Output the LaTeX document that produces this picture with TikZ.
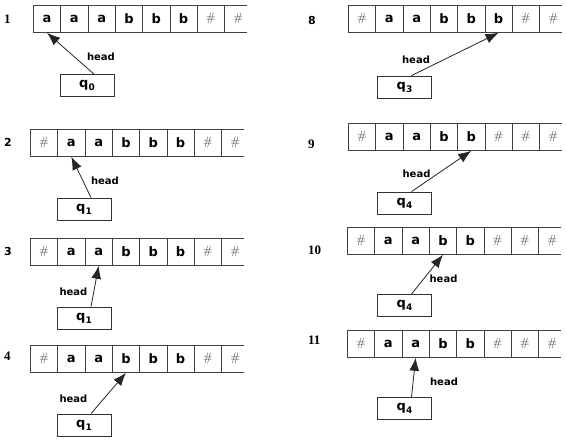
\documentclass[tikz,border=0pt]{standalone}
\usepackage{fontspec}
\usetikzlibrary{arrows.meta}
\newfontfamily\dejavu{DejaVu Sans}
\newfontfamily\serifnum{Liberation Serif}
\newcommand{\cellfont}{\dejavu\bfseries\fontsize{13}{13}\selectfont}
\newcommand{\headfont}{\dejavu\bfseries\fontsize{10}{10}\selectfont}
\newcommand{\numfont}{\serifnum\bfseries\fontsize{13}{13}\selectfont}
\newcommand{\sansnum}{\dejavu\bfseries\fontsize{11}{11}\selectfont}
\newcommand{\hash}{{\rmfamily\mdseries\fontsize{12}{12}\selectfont\color{black!80}\#}}
\newcommand{\state}[1]{q\raisebox{-3pt}{\fontsize{9}{9}\selectfont #1}}
\newcommand{\tape}[4]{%
  \foreach \s [count=\i] in {#4} {
    \ifnum\i<8
      \node[cell] (#1-\i) at ({#2+(\i-1)*\cellw}, #3) {\s};
    \else
      \node[cell, draw=none] (#1-\i) at ({#2+(\i-1)*\cellw}, #3) {\s};
      \draw[tapeline] (#1-\i.north west) -- ++(23,0) (#1-\i.south west) -- ++(23,0);
    \fi
  }%
}
\begin{document}
\begin{tikzpicture}[x=1pt, y=-1pt,
    tapeline/.style={draw=black!75, line width=0.8pt},
    cell/.style={tapeline, anchor=north west, minimum width=\cellw pt, minimum height=27pt, inner sep=0pt, font=\cellfont},
    statebox/.style={draw=black!80, line width=0.8pt, minimum width=54pt, minimum height=22pt, inner sep=0pt, font=\cellfont},
    headlabel/.style={font=\headfont, inner sep=0pt},
    stepnum/.style={font=\numfont, anchor=west, inner sep=0pt},
    headarrow/.style={-{Latex[length=13pt,width=10pt]}, draw=black!85, line width=0.8pt}]
    \def\cellw{27.3}
    \useasboundingbox (0,0) rectangle (567,439);
    % left column
    \tape{tape1}{33}{5}{a,a,a,b,b,b,\hash,\hash}
    \node[stepnum] (n1) at (4,19) {1};
    \node[statebox] (q1) at (87,85.5) {\state{0}};
    \node[headlabel] (h1) at (101,56.5) {head};
    \draw[headarrow] ([xshift=7pt]q1.north) -- (tape1-1.south);

    \tape{tape2}{30}{129}{\hash,a,a,b,b,b,\hash,\hash}
    \node[stepnum, font=\sansnum] (n2) at (4,142) {2};
    \node[statebox] (q2) at (84,209) {\state{1}};
    \node[headlabel] (h2) at (105,181) {head};
    \draw[headarrow] ([xshift=7pt]q2.north) -- (tape2-2.south);

    \tape{tape3}{30}{238}{\hash,a,a,b,b,b,\hash,\hash}
    \node[stepnum, font=\sansnum] (n3) at (4,251) {3};
    \node[statebox] (q3) at (84,318) {\state{1}};
    \node[headlabel] (h3) at (73.5,291.5) {head};
    \draw[headarrow] ([xshift=7pt]q3.north) -- (tape3-3.south);

    \tape{tape4}{30}{345}{\hash,a,a,b,b,b,\hash,\hash}
    \node[stepnum] (n4) at (4,356) {4};
    \node[statebox] (q4) at (84,425) {\state{1}};
    \node[headlabel] (h4) at (73.5,398.5) {head};
    \draw[headarrow] ([xshift=7pt]q4.north) -- (tape4-4.south);

    % right column
    \tape{tape8}{348}{5}{\hash,a,a,b,b,b,\hash,\hash}
    \node[stepnum, font=\sansnum] (n8) at (308,20) {8};
    \node[statebox] (q8) at (404.5,87) {\state{3}};
    \node[headlabel] (h8) at (416,60) {head};
    \draw[headarrow] ([xshift=7pt]q8.north) -- (tape8-6.south);

    \tape{tape9}{348}{123}{\hash,a,a,b,b,\hash,\hash,\hash}
    \node[stepnum] (n9) at (308,144) {9};
    \node[statebox] (q9) at (404.5,203) {\state{4}};
    \node[headlabel] (h9) at (416.5,173.5) {head};
    \draw[headarrow] ([xshift=7pt]q9.north) -- (tape9-5.south);

    \tape{tape10}{347}{227}{\hash,a,a,b,b,\hash,\hash,\hash}
    \node[stepnum] (n10) at (308,250) {10};
    \node[statebox] (q10) at (404.5,305.5) {\state{4}};
    \node[headlabel] (h10) at (443.5,278.5) {head};
    \draw[headarrow] ([xshift=7pt]q10.north) -- (tape10-4.south);

    \tape{tape11}{347}{330}{\hash,a,a,b,b,\hash,\hash,\hash}
    \node[stepnum] (n11) at (308,340) {11};
    \node[statebox] (q11) at (404.5,408.5) {\state{4}};
    \node[headlabel] (h11) at (444,381.5) {head};
    \draw[headarrow] ([xshift=7pt]q11.north) -- (tape11-3.south);
\end{tikzpicture}
\end{document}
